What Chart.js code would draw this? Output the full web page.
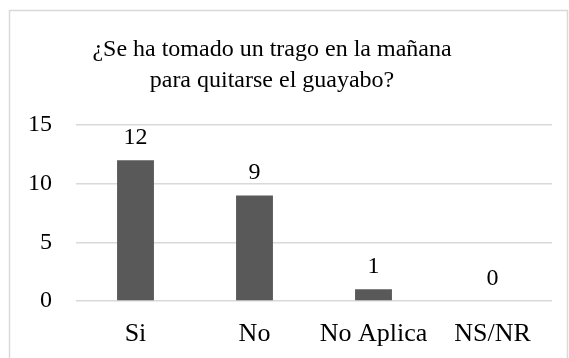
<!DOCTYPE html>
<html>
<head>
<meta charset="utf-8">
<title>guayabo</title>
<script src="https://cdn.jsdelivr.net/npm/chart.js@4.4.1/dist/chart.umd.min.js"></script>
<style>
  html, body { margin: 0; padding: 0; background: #fff; }
  #wrap { position: relative; width: 569px; height: 358px; }
</style>
</head>
<body>
<div id="wrap"><canvas id="grafico"></canvas></div>
<script>
var categorias = ["Si", "No", "No Aplica", "NS/NR"];
var respuestas = [12, 9, 1, 0];
var titulo = ["¿Se ha tomado un trago en la mañana", "para quitarse el guayabo?"];
var marcasY = [0, 5, 10, 15];

var fuente = "'Liberation Serif', 'Times New Roman', serif";

// marco gris y titulo en dos lineas
var marcoTitulo = {
  id: 'marcoTitulo',
  beforeDraw: function(chart){
    var ctx = chart.ctx;
    ctx.save();
    ctx.fillStyle = '#fff';
    ctx.fillRect(0, 0, chart.width, chart.height);
    ctx.strokeStyle = '#d9d9d9';
    ctx.lineWidth = 1.5;
    ctx.strokeRect(9.5, 10.5, 558, 380);
    ctx.fillStyle = '#000';
    ctx.font = "24px " + fuente;
    ctx.textAlign = 'center';
    ctx.textBaseline = 'alphabetic';
    ctx.fillText(titulo[0], 272, 56);
    ctx.fillText(titulo[1], 272, 87);
    ctx.restore();
  }
};

// valor encima de cada barra
var etiquetas = {
  id: 'etiquetas',
  afterDatasetsDraw: function(chart){
    var ctx = chart.ctx;
    var meta = chart.getDatasetMeta(0);
    ctx.save();
    ctx.fillStyle = '#000';
    ctx.font = "24px " + fuente;
    ctx.textAlign = 'center';
    ctx.textBaseline = 'alphabetic';
    for (var i = 0; i < meta.data.length; i++) {
      var bar = meta.data[i];
      ctx.fillText(String(respuestas[i]), bar.x, bar.y - 16);
    }
    ctx.restore();
  }
};

var ctx = document.getElementById("grafico").getContext("2d");
var grafico = new Chart(ctx, {
  type: 'bar',
  data: {
    labels: categorias,
    datasets: [{
      data: respuestas,
      backgroundColor: '#595959',
      borderWidth: 0,
      barPercentage: 0.31,
      categoryPercentage: 1.0
    }]
  },
  options: {
    responsive: true,
    maintainAspectRatio: false,
    animation: false,
    layout: { padding: { left: 0, right: 17, top: 125, bottom: 0 } },
    plugins: {
      legend: { display: false },
      title: { display: false },
      tooltip: { enabled: false }
    },
    scales: {
      x: {
        grid: { display: false, drawTicks: false },
        border: { display: false },
        ticks: {
          color: '#000',
          padding: 18,
          font: { family: fuente, size: 26 }
        },
        afterFit: function(scale){ scale.height = 57; }
      },
      y: {
        min: 0,
        max: 15,
        grid: { color: '#d9d9d9', lineWidth: 1.5, drawTicks: false },
        border: { display: false },
        afterBuildTicks: function(scale){
          scale.ticks = marcasY.map(function(v){ return { value: v }; });
        },
        ticks: {
          color: '#000',
          padding: 24,
          font: { family: fuente, size: 24 }
        },
        afterFit: function(scale){ scale.width = 76; }
      }
    }
  },
  plugins: [marcoTitulo, etiquetas]
});
</script>
</body>
</html>
